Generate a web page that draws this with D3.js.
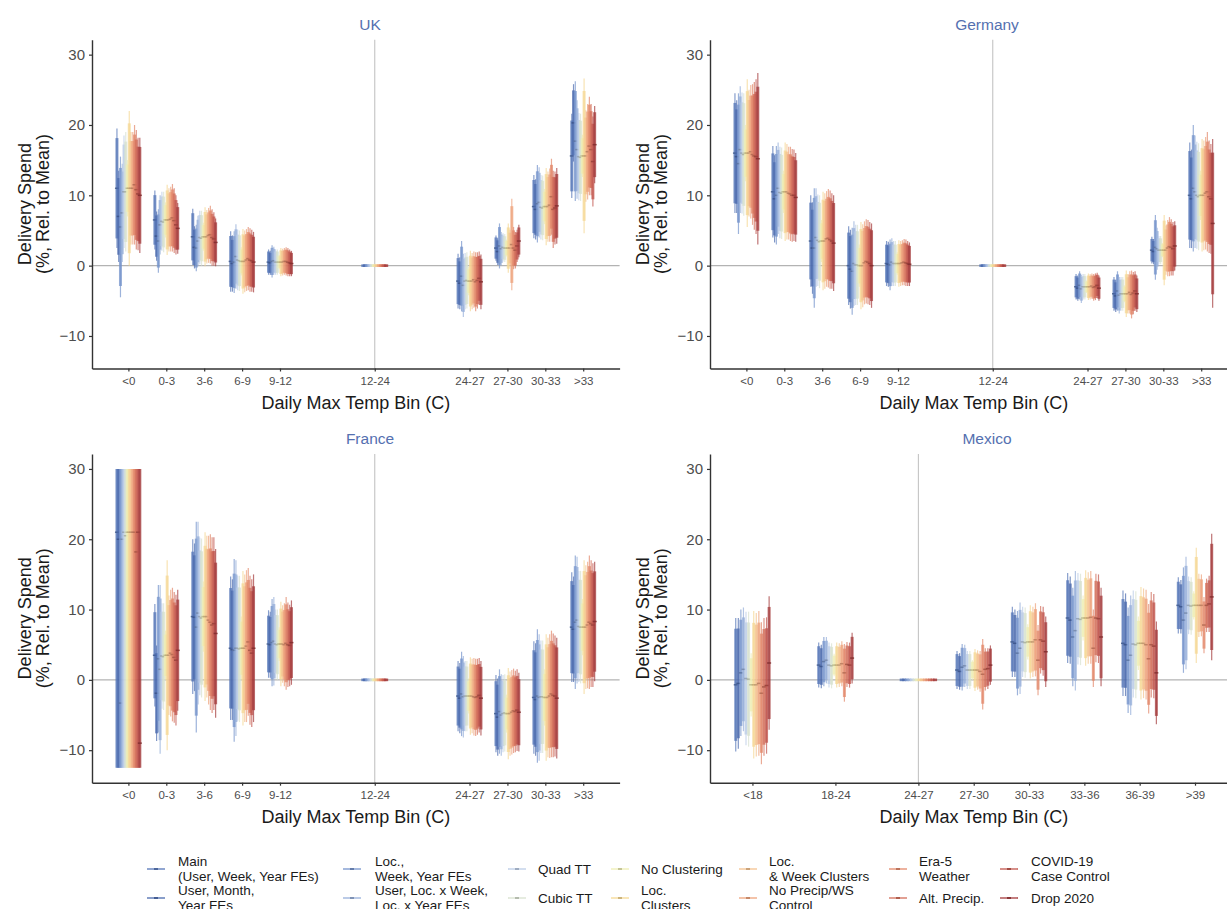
<!DOCTYPE html>
<html><head><meta charset="utf-8">
<script src="https://cdn.jsdelivr.net/npm/d3@7"></script>
<style>
body{margin:0;background:#fff;}
text{font-family:"Liberation Sans", Arial, Helvetica, sans-serif;}
</style>
</head><body>
<svg id="chart" width="1227" height="909"></svg>
<script>
// ---------------- DATA ----------------
const specNames = [
  "Main\n(User, Week, Year FEs)", "User, Month,\nYear FEs",
  "Loc.,\nWeek, Year FEs", "User, Loc. x Week,\nLoc. x Year FEs",
  "Quad TT", "Cubic TT",
  "No Clustering", "Loc.\nClusters",
  "Loc.\n& Week Clusters", "No Precip/WS\nControl",
  "Era-5\nWeather", "Alt. Precip.",
  "COVID-19\nCase Control", "Drop 2020"
];
const specColors = [
  "#5576b8", "#4a69ad", "#7594cc", "#96afda", "#bccde7", "#d8e2cf", "#eeeeb4",
  "#f6d894", "#f5c28e", "#eea27b", "#e3886a", "#d36d58", "#c1544b", "#a43a3b"
];

const binsEU = ["<0","0-3","3-6","6-9","9-12","12-24","24-27","27-30","30-33",">33"];
const posEU  = [1, 2, 3, 4, 5, 7.5, 10, 11, 12, 13];
const binsMX = ["<18","18-24","24-27","27-30","30-33","33-36","36-39",">39"];
const posMX  = [1, 2.5, 4, 5, 6, 7, 8, 9];
const yTicks = [-10, 0, 10, 20, 30];
const yLimits = [-12.5, 30];

// estimates: one row per bin, 14 specifications per row
const ukEst = [
  [11, 7, 5.5, 7.5, 10.5, 10.5, 11, 11, 11, 11, 11.5, 10.8, 10.2, 10],
  [6.5, 4.2, 3.5, 5.8, 6.3, 6.2, 6.5, 6.5, 6.5, 6.6, 6.8, 6.4, 5.8, 5.3],
  [4.1, 2.6, 2.5, 3.5, 4, 3.9, 4.1, 4.1, 4.1, 4.3, 4.4, 4, 3.8, 3.3],
  [0.6, 0.3, 0.5, 1.3, 0.8, 0.7, 0.6, 0.6, 0.6, 0.8, 1.0, 0.8, 0.7, 0.5],
  [0.5, 0.4, 0.6, 0.7, 0.5, 0.5, 0.5, 0.5, 0.5, 0.6, 0.6, 0.5, 0.4, 0.3],
  [0, 0, 0, 0, 0, 0, 0, 0, 0, 0, 0, 0, 0, 0],
  [-2.2, -2.5, -1.5, -2.8, -2.2, -2.1, -2.2, -2.2, -2.2, -2.0, -2.3, -2.1, -1.8, -2.3],
  [2.5, 2.0, 2.8, 2.4, 2.6, 2.5, 2.5, 2.5, 2.5, 3.0, 2.5, 2.2, 2.8, 3.5],
  [8.4, 8.0, 8.8, 9.0, 8.3, 8.2, 8.4, 8.4, 8.4, 8.6, 9.8, 8.0, 8.2, 8.5],
  [15.6, 20.3, 17.7, 16.5, 15.5, 15.4, 15.6, 15.6, 15.6, 16.2, 17.0, 16.5, 14.8, 17.2]
];
// 95% CI half-widths
const ukCI = [
  [8.5, 6.5, 10, 7, 8, 8.5, 4, 11, 8, 8, 8.5, 8.5, 8, 8.2],
  [4.2, 3.5, 4.5, 4.2, 4.2, 4.3, 2.5, 5, 4.5, 4.6, 4.8, 4.6, 4.2, 3.6],
  [4, 3, 3.3, 3.6, 3.8, 3.9, 2, 4.2, 3.8, 3.9, 4.1, 4, 3.8, 3.4],
  [4.3, 4, 4.4, 4.6, 4.3, 4.3, 2, 4.6, 4.4, 4.4, 4.5, 4.5, 4.4, 4.3],
  [1.8, 1.7, 2.3, 2, 1.8, 1.8, 1, 2, 1.9, 1.9, 2, 2, 1.9, 1.8],
  [0, 0, 0, 0, 0, 0, 0, 0, 0, 0, 0, 0, 0, 0],
  [3.9, 3.7, 5, 4.5, 4, 4, 2, 4.3, 4, 4, 4.2, 4, 3.8, 3.9],
  [1.8, 1.9, 3.2, 2.4, 2.0, 2.0, 1.2, 3.5, 2.6, 6.5, 3.0, 2.6, 2.3, 2.3],
  [4.5, 4.3, 5.5, 5.0, 4.6, 4.6, 2.5, 5.5, 5.0, 5.2, 5.4, 5.5, 5.2, 5.4],
  [6, 5.5, 8.5, 7, 6.2, 6.2, 3, 11, 6.5, 6.8, 7, 6.5, 6.4, 5.5]
];

const deEst = [
  [16, 15.5, 14.5, 16.5, 16, 15.8, 16, 16, 16, 16.2, 15.8, 15.6, 15.5, 15.2],
  [10.5, 9.5, 10, 11, 10.4, 10.3, 10.5, 10.5, 10.5, 10.3, 10.2, 10, 10, 9.7],
  [3.5, 2.5, 2.5, 4, 3.6, 3.4, 3.5, 3.5, 3.5, 3.8, 3.9, 3.7, 3.5, 3.2],
  [0, -0.5, -0.8, 0.3, 0.1, 0.1, 0, 0, 0, 0.4, 0.6, 0.5, 0.3, 0],
  [0.3, 0.2, 0.1, 0.5, 0.3, 0.3, 0.3, 0.3, 0.3, 0.4, 0.5, 0.4, 0.3, 0.2],
  [0, 0, 0, 0, 0, 0, 0, 0, 0, 0, 0, 0, 0, 0],
  [-3, -3.2, -2.8, -3.3, -3, -3, -3, -3, -3, -2.9, -3.1, -3, -2.8, -3.2],
  [-4, -4.3, -3.6, -4.2, -4, -4, -4, -4, -4, -3.8, -4.1, -3.9, -3.6, -4],
  [2.2, 2.0, 2.6, 2.4, 2.2, 2.2, 2.2, 2.2, 2.2, 2.5, 2.7, 2.6, 2.4, 2.8],
  [10, 9.5, 11, 10.5, 10, 9.8, 10, 10, 10, 10.3, 10.5, 9.8, 9.5, 6]
];
const deCI = [
  [8.5, 8, 10, 9, 8.6, 8.7, 4, 10.5, 9, 9.5, 10, 10.5, 11, 12.2],
  [6.5, 6.2, 7, 6.5, 6.5, 6.5, 3, 7, 6.8, 6.6, 6.7, 6.6, 6.5, 6.3],
  [6.5, 6.5, 8.5, 7, 6.5, 6.6, 3, 7, 6.8, 6.8, 7, 7, 6.8, 6.8],
  [5.6, 5.6, 6.2, 6, 5.7, 5.7, 3, 6.2, 5.9, 5.9, 6, 6, 5.9, 6],
  [3.2, 3.2, 3.6, 3.4, 3.2, 3.2, 1.6, 3.3, 3.2, 3.2, 3.3, 3.3, 3.2, 3.1],
  [0, 0, 0, 0, 0, 0, 0, 0, 0, 0, 0, 0, 0, 0],
  [1.8, 1.8, 2, 2, 1.8, 1.8, 0.9, 1.9, 1.8, 1.8, 1.9, 1.9, 1.8, 1.8],
  [2.4, 2.3, 2.8, 2.6, 2.4, 2.4, 1.2, 3.3, 2.8, 3, 3.4, 3, 2.8, 2.6],
  [1.9, 1.8, 4.6, 3, 2, 2, 1, 5, 3.5, 4, 4.2, 4, 3.8, 3.5],
  [7.5, 7, 9, 8, 7.6, 7.6, 3.5, 8, 7.8, 8, 8.5, 8, 7.8, 12]
];

const frEst = [
  [21, 20, -3.3, 20, 21, 20.5, 21, 21, 21, 21, 21, 18.2, 21, -9],
  [3.5, -1.9, 3.0, 1.5, 3.4, 3.3, 3.5, 3.5, 3.5, 3.8, 3.6, 3.2, 2.8, 4.2],
  [9, 8.9, 7.5, 9.5, 9, 8.8, 9, 9, 9, 8.5, 8.2, 7.8, 8, 6.6],
  [4.5, 4.3, 4.2, 4.5, 4.5, 4.4, 4.5, 4.5, 4.5, 4.8, 5.4, 4.2, 3.8, 4.5],
  [5.1, 5, 5.3, 5.5, 5.1, 5.0, 5.1, 5.1, 5.1, 5.0, 5.2, 5.0, 4.9, 5.3],
  [0, 0, 0, 0, 0, 0, 0, 0, 0, 0, 0, 0, 0, 0],
  [-2.3, -2.6, -2.0, -2.4, -2.3, -2.3, -2.3, -2.3, -2.3, -2.4, -2.5, -2.4, -2.2, -2.6],
  [-4.8, -5.3, -4.5, -5, -4.8, -4.7, -4.8, -4.8, -4.8, -4.6, -4.4, -4.5, -4.3, -4.6],
  [-2.5, -2.8, -2.3, -2.5, -2.4, -2.4, -2.5, -2.5, -2.5, -2.3, -2.0, -2.2, -2.3, -2.6],
  [7.5, 7.2, 8.2, 8.5, 7.6, 7.5, 7.5, 7.5, 7.5, 7.8, 8.2, 8.0, 7.8, 8.3]
];
const frCI = [
  [45, 45, 50, 45, 45, 45, 40, 45, 45, 45, 45, 45, 45, 50],
  [7.3, 6.8, 10.5, 12, 7.5, 7.6, 3.5, 13.5, 8.5, 9, 9.5, 9.3, 9.3, 8.6],
  [11, 10.5, 15, 13, 11.2, 11.3, 5, 12, 11.5, 12, 12.5, 12.5, 12.3, 12],
  [10.2, 10, 13, 12.5, 10.3, 10.4, 4.5, 11, 10.5, 10.8, 10.5, 10.6, 10.5, 10.5],
  [4.8, 4.7, 6.2, 6.3, 4.9, 5, 2.4, 6, 5.5, 5.9, 6.6, 6.0, 5.8, 6.0],
  [0, 0, 0, 0, 0, 0, 0, 0, 0, 0, 0, 0, 0, 0],
  [5, 5, 6, 5.8, 5, 5, 2.5, 5.5, 5.3, 5.5, 5.5, 5.4, 5.3, 5.3],
  [5.5, 5.5, 6, 5.8, 5.5, 5.5, 2.7, 6.5, 6, 6, 6, 5.8, 5.8, 5.6],
  [8, 8, 9.5, 9, 8, 8, 4, 9, 8.5, 8.8, 9, 8.8, 8.6, 8.6],
  [7.8, 7.5, 9.5, 9, 7.9, 8, 4, 9.5, 8.8, 9, 9.5, 9, 8.8, 8.5]
];

const mxEst = [
  [-0.7, -0.5, 1.0, 1.5, 0.2, 0.1, -0.7, -0.7, -0.7, -0.5, -1.9, -1.0, -0.8, 2.4],
  [2.1, 1.9, 2.6, 2.8, 2.1, 2.0, 2.1, 2.1, 2.1, 2.3, 1.0, 2.2, 2.1, 3.1],
  [0, 0, 0, 0, 0, 0, 0, 0, 0, 0, 0, 0, 0, 0],
  [1.4, 1.2, 1.8, 2.0, 1.4, 1.4, 1.4, 1.4, 1.4, 1.2, 0.8, 1.5, 1.6, 2.1],
  [5.4, 5.2, 3.8, 4.5, 5.4, 5.3, 5.4, 5.4, 5.4, 5.7, 2.8, 5.7, 5.5, 4.0],
  [8.8, 8.5, 6.1, 7.0, 8.7, 8.6, 8.8, 8.8, 8.8, 8.9, 4.5, 8.8, 8.7, 6.1],
  [5.2, 5.0, 2.8, 3.5, 5.1, 5.0, 5.2, 5.2, 5.2, 5.0, 3.0, 5.0, 4.8, 1.0],
  [10.6, 10.4, 8.5, 9.5, 10.6, 10.5, 10.6, 10.6, 10.6, 10.6, 7.8, 10.6, 10.8, 11.8]
];
const mxCI = [
  [9.5, 9.3, 9, 8.8, 9.5, 9.6, 4.5, 10.5, 10.2, 10.3, 10.1, 9.8, 9.7, 9.5],
  [3.2, 3.1, 3.5, 3.3, 3.2, 3.2, 1.6, 3.2, 3.1, 3.2, 4.1, 3.2, 3.2, 3.6],
  [0, 0, 0, 0, 0, 0, 0, 0, 0, 0, 0, 0, 0, 0],
  [2.7, 2.6, 3.3, 3.0, 2.7, 2.7, 1.4, 3.0, 2.8, 2.9, 5.0, 3.0, 2.9, 2.8],
  [5.0, 4.8, 6.0, 6.5, 5.0, 5.0, 2.5, 5.2, 5.0, 5.2, 5.0, 4.8, 4.9, 5.0],
  [6.4, 6.2, 7.0, 8.5, 6.5, 6.5, 3.2, 6.8, 6.5, 6.6, 5.5, 6.3, 6.3, 7.0],
  [7.5, 7.3, 7.5, 8.5, 7.6, 7.6, 3.8, 8.0, 7.8, 7.8, 7.8, 7.5, 7.4, 7.3],
  [4.0, 3.8, 7.5, 8.0, 4.1, 4.1, 2.0, 8.2, 4.5, 4.4, 4.0, 3.8, 4.0, 9.0]
];

// ---------------- LAYOUT ----------------
const panels = [
  {title:"UK", bins:binsEU, pos:posEU, est:ukEst, ci:ukCI, ref:7.5,
   x0:92, x1:619.6, y0:39.7, y1:368.5, xdom:[0.04,13.96], titleX:370},
  {title:"Germany", bins:binsEU, pos:posEU, est:deEst, ci:deCI, ref:7.5,
   x0:710, x1:1237.6, y0:39.7, y1:368.5, xdom:[0.04,13.96], titleX:987},
  {title:"France", bins:binsEU, pos:posEU, est:frEst, ci:frCI, ref:7.5,
   x0:92, x1:619.6, y0:454, y1:782.7, xdom:[0.04,13.96], titleX:370},
  {title:"Mexico", bins:binsMX, pos:posMX, est:mxEst, ci:mxCI, ref:4,
   x0:710, x1:1237.6, y0:454, y1:782.7, xdom:[0.233,9.77], titleX:987}
];
const dodgeW = 0.65, nS = specNames.length;
const innerZ = 1.645 / 1.96;
const yPad = (yLimits[1] - yLimits[0]) * 0.05;

const svg = d3.select("#chart");
const clamp = v => Math.max(yLimits[0], Math.min(yLimits[1], v));

panels.forEach(p => {
  const g = svg.append("g");
  const x = d3.scaleLinear().domain(p.xdom).range([p.x0, p.x1]);
  const y = d3.scaleLinear().domain([yLimits[0] - yPad, yLimits[1] + yPad]).range([p.y1, p.y0]);

  // reference lines
  g.append("line").attr("x1", p.x0).attr("x2", p.x1).attr("y1", y(0)).attr("y2", y(0))
    .attr("stroke", "#b3b3b3").attr("stroke-width", 1.1);
  g.append("line").attr("x1", x(p.ref)).attr("x2", x(p.ref)).attr("y1", p.y0).attr("y2", p.y1)
    .attr("stroke", "#c4c4c4").attr("stroke-width", 1.1);

  // marks
  p.bins.forEach((b, bi) => {
    for (let s = 0; s < nS; s++) {
      const xv = p.pos[bi] - dodgeW / 2 + dodgeW / (2 * nS) + s * dodgeW / nS;
      const xc = x(xv);
      const e = p.est[bi][s], c = p.ci[bi][s];
      const col = specColors[s];
      if (c > 0) {
        g.append("line").attr("x1", xc).attr("x2", xc)
          .attr("y1", y(clamp(e - c))).attr("y2", y(clamp(e + c)))
          .attr("stroke", col).attr("stroke-width", 1.2).attr("opacity", 0.7);
        g.append("line").attr("x1", xc).attr("x2", xc)
          .attr("y1", y(clamp(e - c * innerZ))).attr("y2", y(clamp(e + c * innerZ)))
          .attr("stroke", col).attr("stroke-width", 3).attr("opacity", 0.75);
      }
      g.append("line").attr("x1", xc - 2).attr("x2", xc + 2)
        .attr("y1", y(e)).attr("y2", y(e))
        .attr("stroke", c > 0 ? d3.color(col).darker(0.7) : col)
        .attr("stroke-width", c > 0 ? 1.5 : 2.6).attr("opacity", 0.85);
    }
  });

  // axes
  const ya = g.append("g").attr("transform", `translate(${p.x0},0)`)
    .call(d3.axisLeft(y).tickValues(yTicks).tickSize(3).tickSizeOuter(0).tickPadding(4));
  ya.selectAll("text").attr("fill", "#4d4d4d").style("font-size", "15px");
  const xa = g.append("g").attr("transform", `translate(0,${p.y1})`)
    .call(d3.axisBottom(x).tickValues(p.pos).tickFormat((d, i) => p.bins[i])
      .tickSize(3).tickSizeOuter(0).tickPadding(5));
  xa.selectAll("text").attr("fill", "#4d4d4d").style("font-size", "11.5px");
  [ya, xa].forEach(a => {
    a.select(".domain").attr("stroke", "#333").attr("stroke-width", 1.4);
    a.selectAll(".tick line").attr("stroke", "#333").attr("stroke-width", 1.2);
  });

  // titles
  g.append("text").attr("x", p.titleX).attr("y", p.y0 - 10).attr("text-anchor", "middle")
    .attr("fill", "#5470b0").style("font-size", "15.5px").text(p.title);
  g.append("text").attr("x", (p.x0 + p.x1) / 2).attr("y", p.y1 + 40).attr("text-anchor", "middle")
    .attr("fill", "#1a1a1a").style("font-size", "18px").text("Daily Max Temp Bin (C)");
  const yc = (p.y0 + p.y1) / 2;
  const yt = g.append("text").attr("transform", `translate(${p.x0 - 61},${yc}) rotate(-90)`)
    .attr("text-anchor", "middle").attr("fill", "#1a1a1a").style("font-size", "18px");
  yt.append("tspan").attr("x", 0).attr("y", 0).text("Delivery Spend");
  yt.append("tspan").attr("x", 0).attr("y", 17.5).text("(%, Rel. to Mean)");
});

// ---------------- LEGEND ----------------
const legKeyX = [147, 343, 508, 611, 739, 889, 1000];
const legTextX = [178, 375, 538, 641, 769, 919, 1031];
const legRowY = [869, 898];
const leg = svg.append("g");
specNames.forEach((name, i) => {
  const c = Math.floor(i / 2), r = i % 2;
  const ky = legRowY[r];
  leg.append("line").attr("x1", legKeyX[c]).attr("x2", legKeyX[c] + 18)
    .attr("y1", ky).attr("y2", ky).attr("stroke", specColors[i]).attr("stroke-width", 1.3);
  leg.append("line").attr("x1", legKeyX[c] + 7).attr("x2", legKeyX[c] + 11)
    .attr("y1", ky).attr("y2", ky).attr("stroke", d3.color(specColors[i]).darker(0.6)).attr("stroke-width", 1.8);
  const lines = name.split("\n");
  const t = leg.append("text").attr("fill", "#1a1a1a").style("font-size", "13.5px");
  if (lines.length === 1) {
    t.append("tspan").attr("x", legTextX[c]).attr("y", ky + 5).text(lines[0]);
  } else {
    lines.forEach((l, li) => t.append("tspan").attr("x", legTextX[c]).attr("y", ky - 3 + li * 15).text(l));
  }
});
</script>
</body></html>
